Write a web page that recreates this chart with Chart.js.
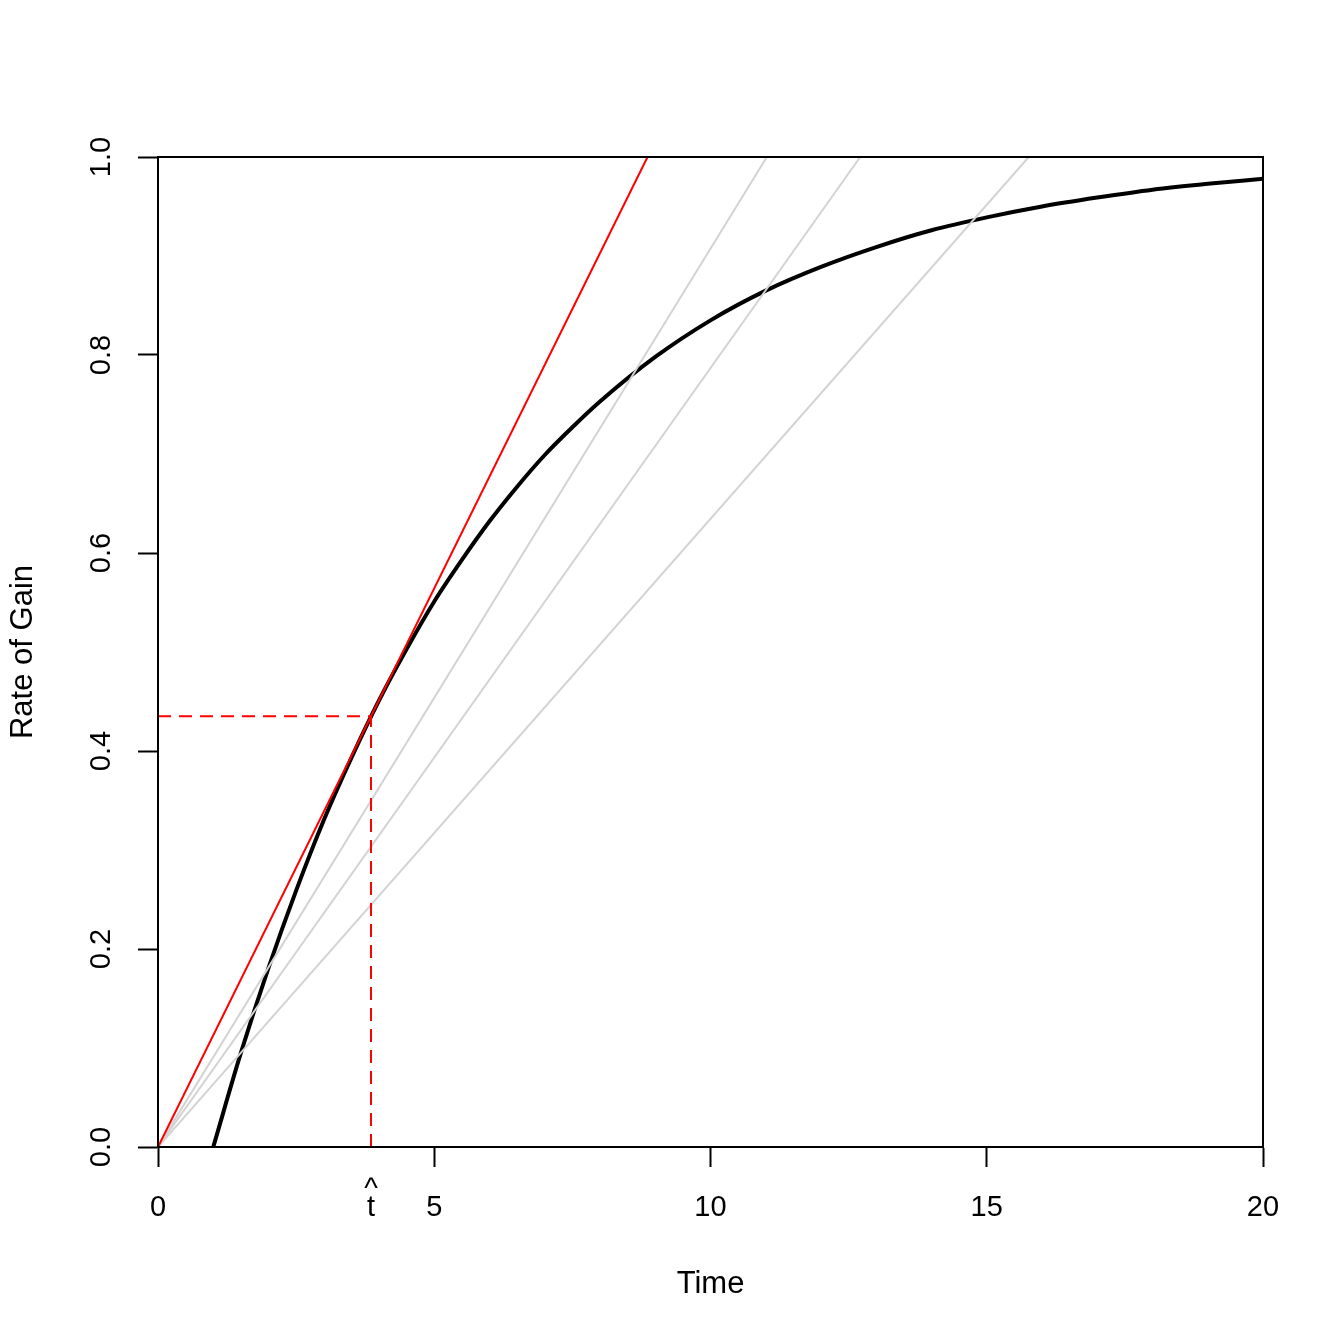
<!DOCTYPE html>
<html>
<head>
<meta charset="utf-8">
<script src="https://cdn.jsdelivr.net/npm/chart.js@4.4.1/dist/chart.umd.min.js"></script>
<style>
  html, body { margin: 0; padding: 0; background: #fff; }
</style>
</head>
<body>
<canvas id="gainChart" width="1344" height="1344"></canvas>
<script>
// gain curve
var curveTime = [1, 1.5, 2, 2.5, 3, 3.5, 4, 4.5, 5, 5.5, 6, 6.5, 7, 7.5, 8, 9, 10, 11, 12, 13, 14, 15, 16, 17, 18, 19, 20];
var curveGain = [0, 0.095, 0.181, 0.259, 0.330, 0.393, 0.451, 0.503, 0.551, 0.593, 0.632, 0.667, 0.699, 0.727, 0.753, 0.798, 0.835, 0.865, 0.889, 0.909, 0.926, 0.939, 0.950, 0.959, 0.967, 0.973, 0.978];

// rays from the origin: time where each reaches gain 1.0
var grayRayEnds = [11.02, 12.71, 15.76];
var tangentEnd = 8.86;

// optimal point
var tHat = 3.855;
var gainHat = 0.435;

var xTickValues = [0, tHat, 5, 10, 15, 20];
var yTickValues = [0, 0.2, 0.4, 0.6, 0.8, 1.0];

var FONT = "'Liberation Sans', Arial, Helvetica, sans-serif";

function ray(end) {
    return [{x: 0, y: 0}, {x: end, y: 1}];
}

var datasets = [];

datasets.push({
    label: 'gain',
    data: curveTime.map(function (t, i) { return {x: t, y: curveGain[i]}; }),
    borderColor: '#000000',
    borderWidth: 4,
    cubicInterpolationMode: 'monotone',
    order: 3
});

grayRayEnds.forEach(function (end, i) {
    datasets.push({
        label: 'ray' + i,
        data: ray(end),
        borderColor: '#D3D3D3',
        borderWidth: 2,
        order: 2
    });
});

datasets.push({
    label: 'tangent',
    data: ray(tangentEnd),
    borderColor: '#FF0000',
    borderWidth: 2,
    order: 1
});

datasets.push({
    label: 'hline',
    data: [{x: 0, y: gainHat}, {x: tHat, y: gainHat}],
    borderColor: '#FF0000',
    borderWidth: 2,
    borderDash: [13, 8],
    order: 0
});
datasets.push({
    label: 'vline',
    data: [{x: tHat, y: 0}, {x: tHat, y: gainHat}],
    borderColor: '#FF0000',
    borderWidth: 2,
    borderDash: [13, 8],
    order: 0
});

// box round the plot and rotated y tick labels, R style
var rBox = {
    id: 'rBox',
    afterDraw: function (chart) {
        var ctx = chart.ctx;
        var a = chart.chartArea;
        ctx.save();
        ctx.strokeStyle = '#000';
        ctx.lineWidth = 2;
        ctx.strokeRect(a.left, a.top, a.right - a.left, a.bottom - a.top);

        var ys = chart.scales.y;
        ctx.fillStyle = '#000';
        ctx.font = '29px ' + FONT;
        ctx.textAlign = 'center';
        ctx.textBaseline = 'alphabetic';
        yTickValues.forEach(function (v) {
            ctx.save();
            ctx.translate(110, ys.getPixelForValue(v));
            ctx.rotate(-Math.PI / 2);
            ctx.fillText(v.toFixed(1), 0, 0);
            ctx.restore();
        });
        ctx.restore();
    }
};

var chart = new Chart(document.getElementById('gainChart'), {
    type: 'scatter',
    data: { datasets: datasets },
    options: {
        responsive: false,
        animation: false,
        showLine: true,
        elements: { point: { radius: 0 }, line: { fill: false } },
        layout: { padding: { left: 0, top: 157, right: 81, bottom: 0 } },
        plugins: {
            legend: { display: false },
            tooltip: { enabled: false }
        },
        scales: {
            x: {
                type: 'linear',
                min: 0,
                max: 20,
                afterBuildTicks: function (s) {
                    s.ticks = xTickValues.map(function (v) { return {value: v}; });
                },
                afterFit: function (s) { s.height = 197; },
                border: { display: true, color: '#000', width: 2 },
                grid: {
                    drawOnChartArea: false,
                    drawTicks: true,
                    tickLength: 20,
                    tickWidth: 2,
                    tickColor: function (c) {
                        return (c.tick && c.tick.value === tHat) ? 'rgba(0,0,0,0)' : '#000';
                    }
                },
                ticks: {
                    autoSkip: false,
                    maxRotation: 0,
                    padding: 14,
                    color: '#000',
                    font: { family: FONT, size: 29, lineHeight: 0.62 },
                    // two lines so the hat sits over the t
                    callback: function (v) {
                        return v === tHat ? ['^', 't'] : ['', String(v)];
                    }
                },
                title: {
                    display: true,
                    text: 'Time',
                    color: '#000',
                    font: { family: FONT, size: 31 },
                    padding: { top: 0, bottom: 41 }
                }
            },
            y: {
                type: 'linear',
                min: 0,
                max: 1,
                afterBuildTicks: function (s) {
                    s.ticks = yTickValues.map(function (v) { return {value: v}; });
                },
                afterFit: function (s) { s.width = 158; },
                border: { display: true, color: '#000', width: 2 },
                grid: {
                    drawOnChartArea: false,
                    drawTicks: true,
                    tickLength: 20,
                    tickWidth: 2,
                    tickColor: '#000'
                },
                ticks: { display: false },
                title: {
                    display: true,
                    text: 'Rate of Gain',
                    color: '#000',
                    font: { family: FONT, size: 31 },
                    padding: { top: 5, bottom: 0 }
                }
            }
        }
    },
    plugins: [rBox]
});
</script>
</body>
</html>
